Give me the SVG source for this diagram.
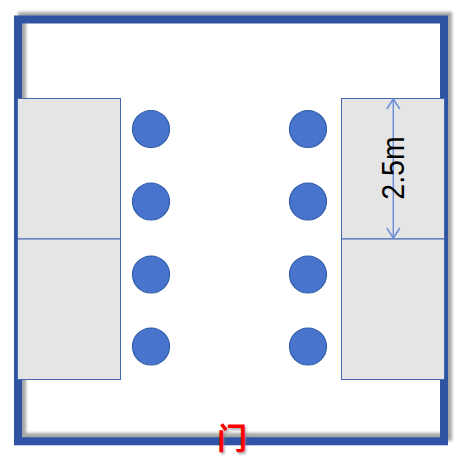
<svg xmlns="http://www.w3.org/2000/svg" width="475" height="463" viewBox="0 0 475 463">
<defs>
<filter id="sh" x="-5%" y="-5%" width="110%" height="110%"><feGaussianBlur stdDeviation="1.6"/></filter>
<filter id="ts" x="-30%" y="-30%" width="160%" height="160%"><feGaussianBlur stdDeviation="0.8"/></filter>
<marker id="ah" viewBox="0 0 15 15" refX="12" refY="7.500" markerWidth="15" markerHeight="15" markerUnits="userSpaceOnUse" orient="auto-start-reverse"><path d="M2 1L12 7.500L2 14" fill="none" stroke="#6b8fd8" stroke-width="1.500"/></marker>
</defs>
<style>
.seat{fill:#4874cd;stroke:#2f5ba8;stroke-width:1.200}
.desk{fill:#e5e5e5;stroke:#4468b0;stroke-width:1}
</style>
<rect width="475" height="463" fill="#fff"/>
<g id="room">
<rect x="22" y="16" width="426" height="421" fill="none" stroke="#888" stroke-width="8" opacity=".75" filter="url(#sh)"/>
<rect x="18" y="19.500" width="426" height="421.800" fill="none" stroke="#2f54a3" stroke-width="8" stroke-linejoin="miter"/>
</g>
<g id="desk-left-1"><rect class="desk" x="17.500" y="98.500" width="103" height="140.500"/></g>
<g id="desk-left-2"><rect class="desk" x="17.500" y="239" width="103" height="140.500"/></g>
<g id="desk-right-1"><rect class="desk" x="341.500" y="98.500" width="103" height="140.500"/></g>
<g id="desk-right-2"><rect class="desk" x="341.500" y="239" width="103" height="140.500"/></g>
<g id="seat-l1"><circle class="seat" cx="151" cy="129" r="18.500"/></g>
<g id="seat-l2"><circle class="seat" cx="151" cy="201.500" r="18.500"/></g>
<g id="seat-l3"><circle class="seat" cx="151" cy="274.500" r="18.500"/></g>
<g id="seat-l4"><circle class="seat" cx="151" cy="346.500" r="18.500"/></g>
<g id="seat-r1"><circle class="seat" cx="308" cy="129" r="18.500"/></g>
<g id="seat-r2"><circle class="seat" cx="308" cy="201.500" r="18.500"/></g>
<g id="seat-r3"><circle class="seat" cx="308" cy="274.500" r="18.500"/></g>
<g id="seat-r4"><circle class="seat" cx="308" cy="346.500" r="18.500"/></g>
<g id="connectors">
<line x1="393.300" y1="99" x2="393.300" y2="238" stroke="#6b8fd8" stroke-width="1.500" marker-start="url(#ah)" marker-end="url(#ah)"/>
</g>
<g id="dimension-label">
<text transform="translate(404 168) rotate(-90) scale(1 1.130)" text-anchor="middle" font-family="'Liberation Sans',Arial,sans-serif" font-size="28.500" fill="#000">2.5m</text>
</g>
<g id="door">
<text x="232" y="449" text-anchor="middle" font-family="'Noto Sans CJK SC',sans-serif" font-weight="700" font-size="30" fill="#777" opacity=".6" filter="url(#ts)" transform="translate(1.500 1.500)">门</text>
<text x="232" y="449" text-anchor="middle" font-family="'Noto Sans CJK SC',sans-serif" font-weight="700" font-size="30" fill="#ff0000">门</text>
</g>
</svg>
